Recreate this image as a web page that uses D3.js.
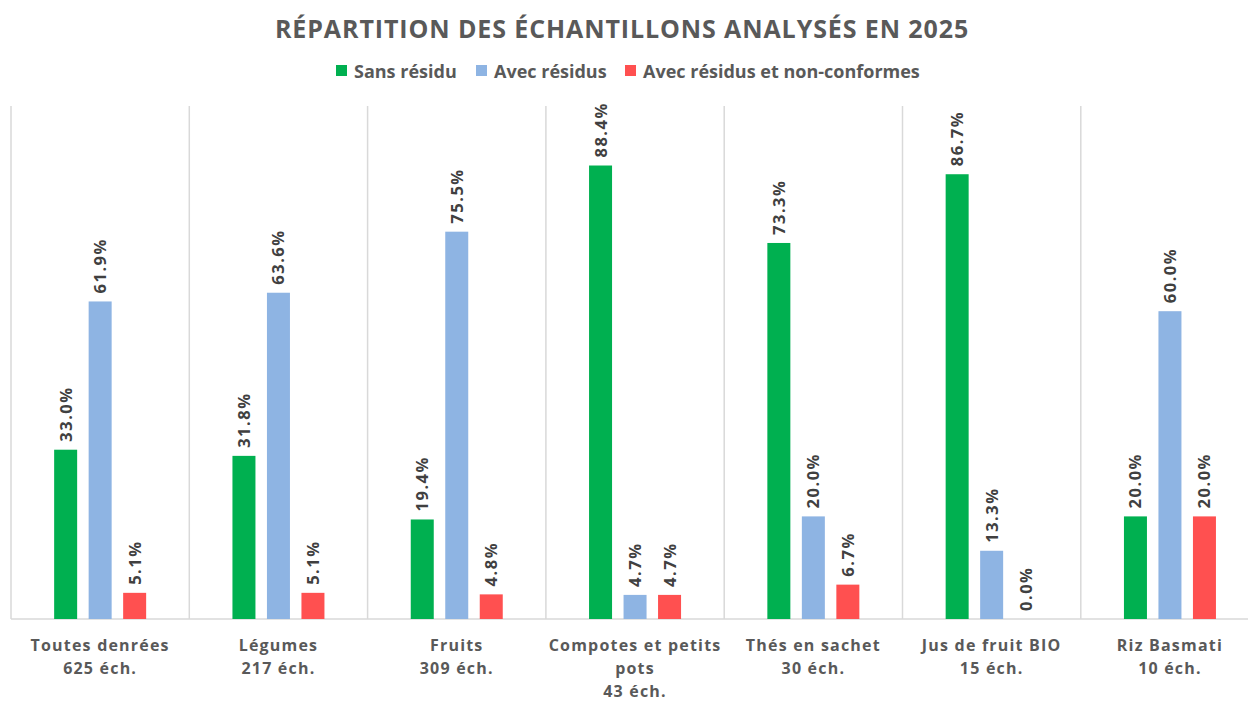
<!DOCTYPE html>
<html>
<head>
<meta charset="utf-8">
<script src="https://cdn.jsdelivr.net/npm/d3@7"></script>
<style>
  body { margin: 0; background: #fff; }
  svg { font-family: "Open Sans", sans-serif; }
</style>
</head>
<body>
<svg width="1248" height="702"></svg>
<script>
// data
const categories = [
  ["Toutes denrées", "625 éch."],
  ["Légumes", "217 éch."],
  ["Fruits", "309 éch."],
  ["Compotes et petits", "pots", "43 éch."],
  ["Thés en sachet", "30 éch."],
  ["Jus de fruit BIO", "15 éch."],
  ["Riz Basmati", "10 éch."]
];
const seriesNames = ["Sans résidu", "Avec résidus", "Avec résidus et non-conformes"];
const sansResidu = [33.0, 31.8, 19.4, 88.4, 73.3, 86.7, 20.0];
const avecResidus = [61.9, 63.6, 75.5, 4.7, 20.0, 13.3, 60.0];
const nonConformes = [5.1, 5.1, 4.8, 4.7, 6.7, 0.0, 20.0];
const colors = ["#00B050", "#8EB4E3", "#FF5050"];

const svg = d3.select("svg");
const plotLeft = 11, bandW = 178.3, plotTop = 106, plotBottom = 619;

const catKeys = categories.map((c, i) => i);
const x0 = d3.scaleBand().domain(catKeys).range([plotLeft, plotLeft + bandW * categories.length]);
const x1 = d3.scaleBand().domain(seriesNames).range([-51.75, 51.75]).paddingInner(1 / 3).paddingOuter(1 / 6);
const y = d3.scaleLinear().domain([0, 100]).range([plotBottom, plotTop]);

const allSeries = [sansResidu, avecResidus, nonConformes];
const rows = [];
catKeys.forEach(i => {
  seriesNames.forEach((s, j) => rows.push({ cat: i, series: s, idx: j, value: allSeries[j][i] }));
});

// title
svg.append("text")
  .attr("x", 622).attr("y", 38)
  .attr("text-anchor", "middle")
  .style("font-size", "25px").style("font-weight", 700)
  .style("letter-spacing", "0.9px")
  .attr("fill", "#595959")
  .text("RÉPARTITION DES ÉCHANTILLONS ANALYSÉS EN 2025");

// legend
const legendX = [336, 476, 625];
const legend = svg.append("g").selectAll("g").data(seriesNames).enter().append("g")
  .attr("transform", (d, i) => `translate(${legendX[i]},0)`);
legend.append("rect").attr("x", 0).attr("y", 65).attr("width", 11).attr("height", 11)
  .attr("fill", (d, i) => colors[i]);
legend.append("text").attr("x", 18).attr("y", 77.5)
  .style("font-size", "18px").style("font-weight", 700)
  .attr("fill", "#595959").text(d => d);

// vertical separators
svg.append("g").selectAll("line")
  .data(d3.range(categories.length + 1))
  .enter().append("line")
  .attr("x1", i => plotLeft + i * bandW).attr("x2", i => plotLeft + i * bandW)
  .attr("y1", plotTop).attr("y2", plotBottom)
  .attr("stroke", "#d9d9d9").attr("stroke-width", 1.5);

// baseline
svg.append("line")
  .attr("x1", plotLeft).attr("x2", plotLeft + bandW * categories.length)
  .attr("y1", plotBottom).attr("y2", plotBottom)
  .attr("stroke", "#d9d9d9").attr("stroke-width", 1.5);

// bars
svg.append("g").selectAll("rect").data(rows).enter().append("rect")
  .attr("x", d => x0(d.cat) + x0.bandwidth() / 2 + x1(d.series))
  .attr("y", d => y(d.value))
  .attr("width", x1.bandwidth())
  .attr("height", d => plotBottom - y(d.value))
  .attr("fill", d => colors[d.idx]);

// value labels
svg.append("g").selectAll("text").data(rows).enter().append("text")
  .attr("transform", d => {
    const cx = x0(d.cat) + x0.bandwidth() / 2 + x1(d.series) + x1.bandwidth() / 2;
    return `translate(${cx + 6},${y(d.value) - 8}) rotate(-90)`;
  })
  .style("font-size", "16.5px").style("font-weight", 700)
  .style("letter-spacing", "1.5px")
  .attr("fill", "#404040")
  .text(d => d.value.toFixed(1) + "%");

// category labels
const catLabels = svg.append("g").selectAll("text").data(categories).enter().append("text")
  .attr("x", (d, i) => x0(i) + x0.bandwidth() / 2)
  .attr("y", 651)
  .attr("text-anchor", "middle")
  .style("font-size", "16px").style("font-weight", 700)
  .style("letter-spacing", "1.2px")
  .attr("fill", "#595959");
catLabels.selectAll("tspan").data(d => d).enter().append("tspan")
  .attr("x", function () { return d3.select(this.parentNode).attr("x"); })
  .attr("dy", (d, i) => i === 0 ? 0 : 23)
  .text(d => d);
</script>
</body>
</html>
